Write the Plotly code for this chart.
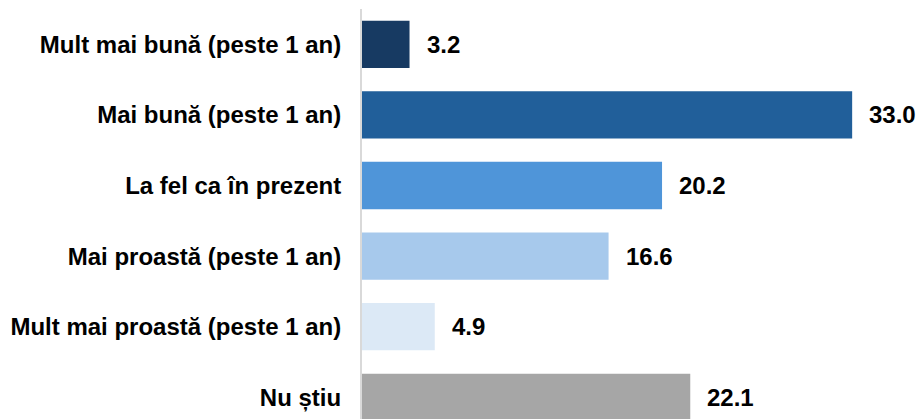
import plotly.graph_objects as go

categories = ["Mult mai bună (peste 1 an)", "Mai bună (peste 1 an)", "La fel ca în prezent",
              "Mai proastă (peste 1 an)", "Mult mai proastă (peste 1 an)", "Nu știu"]
values = [3.2, 33.0, 20.2, 16.6, 4.9, 22.1]
value_labels = ["3.2", "33.0", "20.2", "16.6", "4.9", "22.1"]
colors = ["#173A62", "#215F9A", "#4F95D9", "#A7C9EC", "#DCE9F6", "#A6A6A6"]

FONT = "Liberation Sans, Arial, sans-serif"
idx = list(range(len(categories)))

fig = go.Figure()
fig.add_trace(go.Bar(
    x=values, y=idx, orientation="h",
    marker=dict(color=colors, line=dict(width=0)),
    width=0.67, hoverinfo="skip",
))

for i, (v, t) in enumerate(zip(values, value_labels)):
    fig.add_annotation(x=v, y=i, text="<b>%s</b>" % t, showarrow=False,
                       xanchor="left", yanchor="middle", xshift=15,
                       font=dict(family=FONT, size=24, color="#000000"))

fig.update_layout(
    width=919, height=419,
    margin=dict(l=362, r=0, t=9, b=0),
    paper_bgcolor="white", plot_bgcolor="white",
    showlegend=False,
)
fig.update_xaxes(range=[0, 37.5], visible=False, showgrid=False, zeroline=False)
fig.update_yaxes(
    range=[5.307, -0.5],
    tickmode="array", tickvals=idx,
    ticktext=["<b>%s</b>" % c for c in categories],
    tickfont=dict(family=FONT, size=24, color="#000000"),
    showgrid=False, zeroline=False,
    showline=True, linecolor="#D9D9D9", linewidth=2,
    ticks="", ticklabelstandoff=14, automargin=False,
)

fig.write_html(
    "out.html",
    config={"displayModeBar": False, "staticPlot": True},
    post_script="document.body.style.margin='0';document.body.style.overflow='hidden';"
                "document.documentElement.style.overflow='hidden';",
)
